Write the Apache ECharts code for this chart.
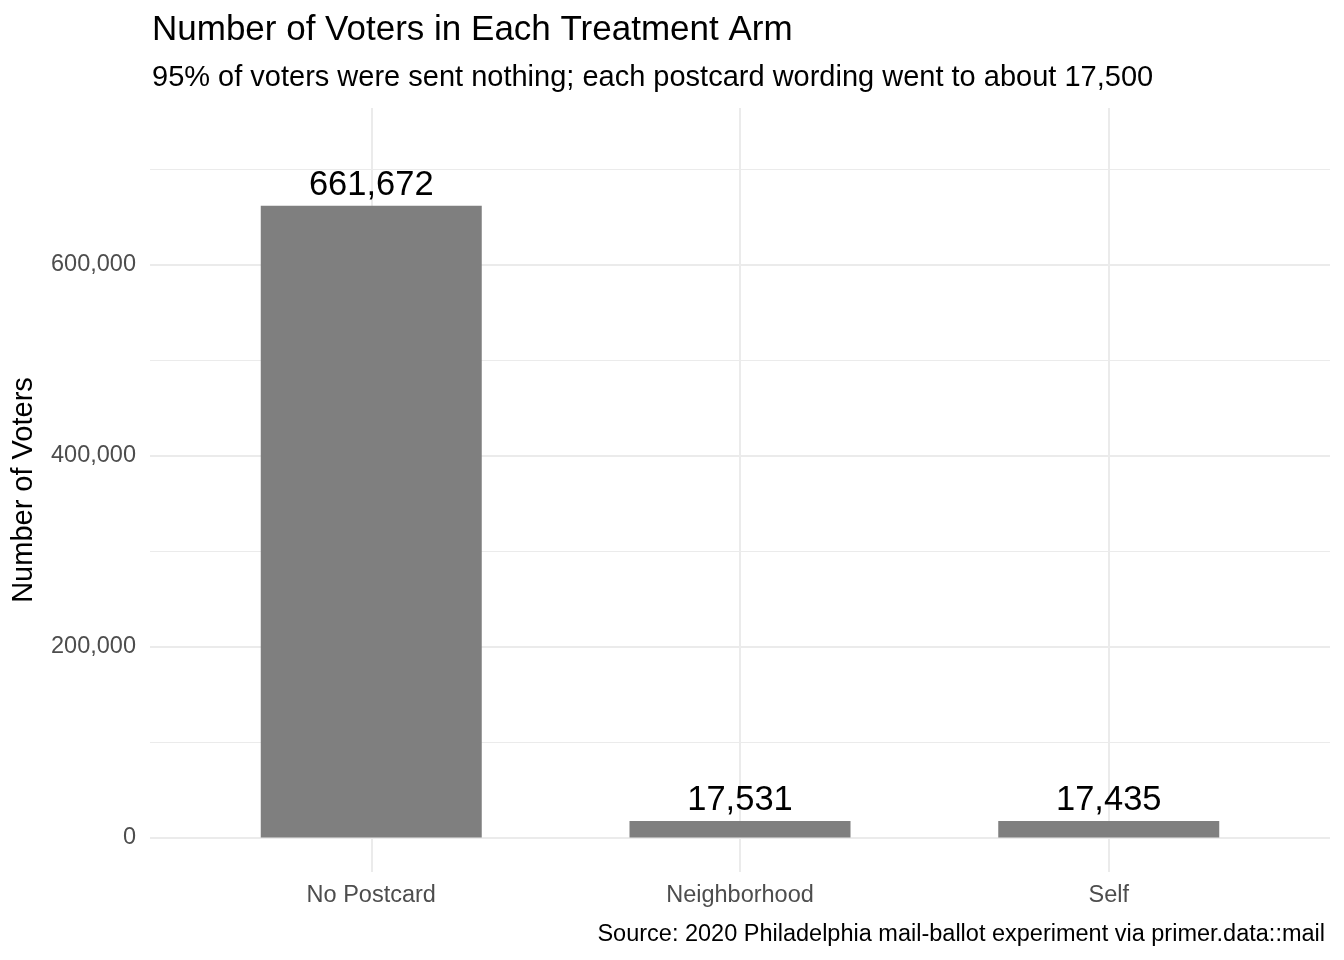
<!DOCTYPE html>
<html>
<head>
<meta charset="utf-8">
<script src="https://cdn.jsdelivr.net/npm/echarts@6/dist/echarts.min.js"></script>
<style>html,body{margin:0;padding:0;background:#fff}#main{width:1344px;height:960px}</style>
</head>
<body>
<div id="main"></div>
<script>
var categories = ['No Postcard', 'Neighborhood', 'Self'];
var voters = [661672, 17531, 17435];
var yTicks = [0, 200000, 400000, 600000];
var yMinor = [100000, 300000, 500000, 700000];

var font = 'Liberation Sans, Arial, sans-serif';
var fmt = function (v) { return v.toLocaleString('en-US'); };

var gridLines = [];
yTicks.forEach(function (v) { gridLines.push({ yAxis: v, lineStyle: { width: 2 } }); });
yMinor.forEach(function (v) { gridLines.push({ yAxis: v, lineStyle: { width: 1 } }); });
categories.forEach(function (c, i) { gridLines.push({ xAxis: i + 1, lineStyle: { width: 2 } }); });

var chart = echarts.init(document.getElementById('main'));
chart.setOption({
    animation: false,
    textStyle: { fontFamily: font },
    title: [
        { text: 'Number of Voters in Each Treatment Arm', left: 147, top: 8,
          textStyle: { fontSize: 35, fontWeight: 'normal', color: '#000', fontFamily: font } },
        { text: '95% of voters were sent nothing; each postcard wording went to about 17,500', left: 147, top: 58,
          textStyle: { fontSize: 29, fontWeight: 'normal', color: '#000', fontFamily: font } },
        { text: 'Source: 2020 Philadelphia mail-ballot experiment via primer.data::mail', right: 14, top: 918,
          textStyle: { fontSize: 23.5, fontWeight: 'normal', color: '#000', fontFamily: font } }
    ],
    grid: { left: 150, right: 14, top: 108, bottom: 88 },
    xAxis: {
        type: 'value', min: 0.4, max: 3.6,
        axisLine: { show: false }, axisTick: { show: false }, splitLine: { show: false },
        axisLabel: {
            customValues: [1, 2, 3], margin: 12, fontSize: 23.5, color: '#4d4d4d',
            formatter: function (v) { return categories[Math.round(v) - 1]; }
        }
    },
    yAxis: {
        type: 'value', min: -36000, max: 764000,
        name: 'Number of Voters', nameLocation: 'middle', nameGap: 112,
        nameTextStyle: { fontSize: 29, color: '#000' },
        axisLine: { show: false }, axisTick: { show: false }, splitLine: { show: false },
        axisLabel: { customValues: yTicks, fontSize: 23.5, color: '#4d4d4d', margin: 14, formatter: fmt }
    },
    series: [{
        type: 'bar',
        barWidth: 221,
        itemStyle: { color: '#7f7f7f' },
        data: voters.map(function (v, i) { return [i + 1, v]; }),
        label: { show: true, position: 'top', distance: 3, fontSize: 34.5, color: '#000',
                 formatter: function (p) { return fmt(p.value[1]); } },
        markLine: {
            silent: true, symbol: 'none', label: { show: false }, z: -1,
            lineStyle: { color: '#ebebeb', type: 'solid' },
            data: gridLines
        },
        z: 2
    }]
});
</script>
</body>
</html>
